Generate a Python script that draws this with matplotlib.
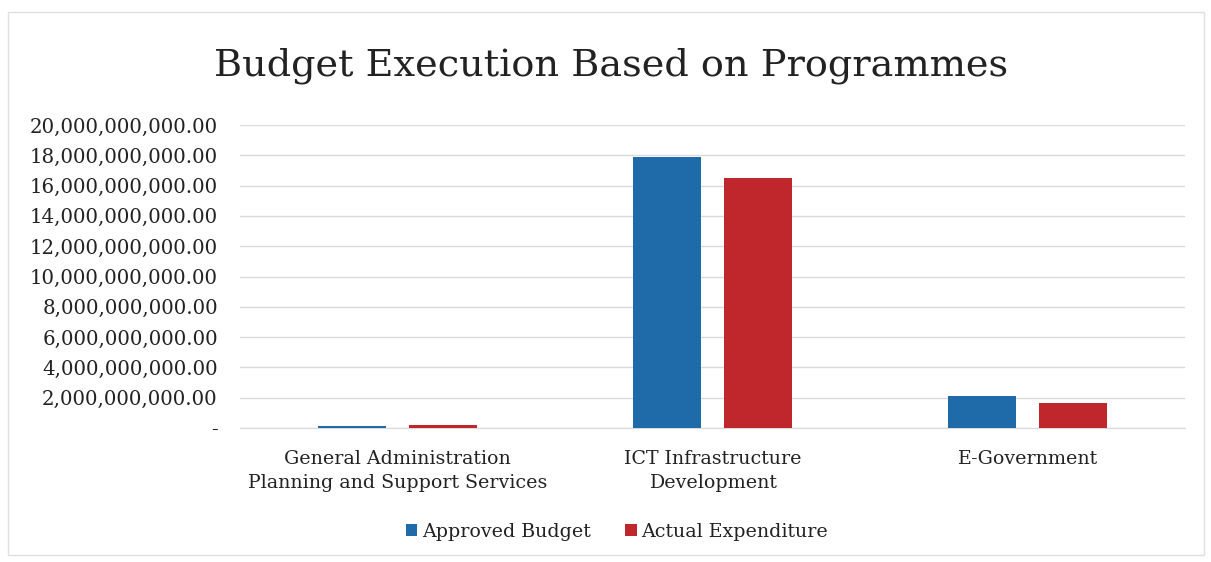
import matplotlib
matplotlib.use("Agg")
import matplotlib.pyplot as plt
import numpy as np
from matplotlib.ticker import FuncFormatter

categories = ["General Administration\nPlanning and Support Services",
              "ICT Infrastructure\nDevelopment",
              "E-Government"]
approved = [0.15e9, 17.9e9, 2.12e9]
actual = [0.2e9, 16.5e9, 1.68e9]
series_names = ["Approved Budget", "Actual Expenditure"]
yticks = np.arange(0, 20e9 + 1, 2e9)

blue = "#1f6aa8"
red = "#c0272d"
font = "DejaVu Serif"

fig = plt.figure(figsize=(12.11, 5.62), dpi=100)
ax = fig.add_axes([240/1211, 1 - 428/562, 945/1211, 303/562])

x = np.arange(len(categories))
w = 0.216
off = 0.143
ax.bar(x - off, approved, w, color=blue, label=series_names[0], zorder=3)
ax.bar(x + off, actual, w, color=red, label=series_names[1], zorder=3)

ax.set_xlim(-0.5, 2.5)
ax.set_ylim(0, 20e9)
ax.set_yticks(yticks)
ax.yaxis.set_major_formatter(FuncFormatter(lambda v, p: "-" if v == 0 else f"{v:,.2f}"))
ax.grid(axis="y", color="#d9d9de", linewidth=1, zorder=0)
for s in ["top", "right", "left"]:
    ax.spines[s].set_visible(False)
ax.spines["bottom"].set_color("#d9d9de")
ax.tick_params(axis="y", length=0, pad=16, labelsize=14.2)
ax.tick_params(axis="x", length=0, pad=15.5, labelsize=13.7)
ax.set_xticks(x)
ax.set_xticklabels(categories, linespacing=1.45)
for lbl in ax.get_yticklabels() + ax.get_xticklabels():
    lbl.set_fontfamily(font)
    lbl.set_color("#222222")

fig.text(0.505, 1 - 66/562, "Budget Execution Based on Programmes", ha="center", va="center",
         fontsize=27.5, family=font, color="#222222")

leg = fig.legend(loc="center", bbox_to_anchor=(617/1211, 1 - 532/562), ncol=2, frameon=False,
                 prop={"family": font, "size": 13.7}, handlelength=0.6, handleheight=0.6,
                 handletextpad=0.25, columnspacing=1.8)
for t in leg.get_texts():
    t.set_color("#222222")

border = plt.Rectangle((8/1211, 1 - 555/562), 1196/1211, 543/562, transform=fig.transFigure,
                       fill=False, edgecolor="#e0e0e0", linewidth=1)
fig.add_artist(border)

fig.savefig("out.png", dpi=100)
